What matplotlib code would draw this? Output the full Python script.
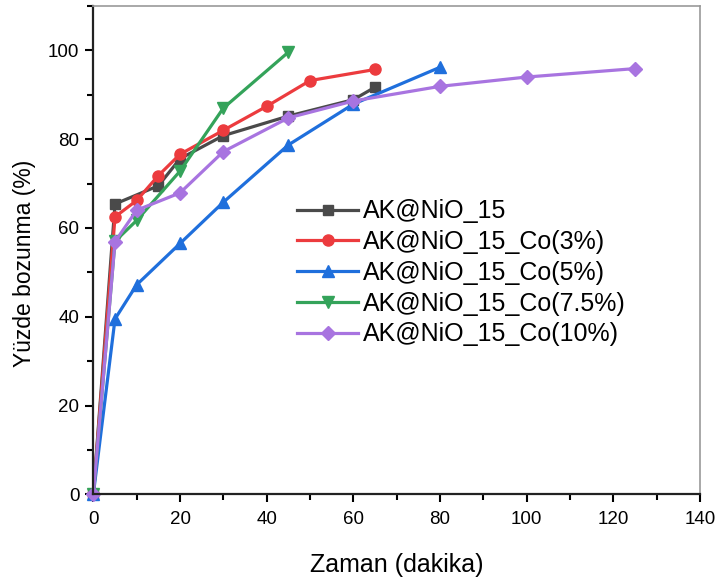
import matplotlib
matplotlib.use("Agg")
from matplotlib import pyplot as plt
from matplotlib.ticker import MultipleLocator

plt.rcParams['font.family'] = ['Liberation Sans', 'DejaVu Sans']

labels = ["AK@NiO_15", "AK@NiO_15_Co(3%)", "AK@NiO_15_Co(5%)",
          "AK@NiO_15_Co(7.5%)", "AK@NiO_15_Co(10%)"]

t_ni = [0, 5, 15, 20, 30, 45, 60, 65]
y_ni = [0, 65.4, 69.5, 75.6, 80.8, 85.2, 88.9, 91.7]

t_co3 = [0, 5, 10, 15, 20, 30, 40, 50, 65]
y_co3 = [0, 62.5, 66.2, 71.8, 76.6, 82.0, 87.4, 93.2, 95.7]

t_co5 = [0, 5, 10, 20, 30, 45, 60, 80]
y_co5 = [0, 39.5, 47.2, 56.5, 65.8, 78.7, 87.9, 96.2]

t_co75 = [0, 5, 10, 20, 30, 45]
y_co75 = [0, 57.0, 61.7, 72.8, 87.0, 99.6]

t_co10 = [0, 5, 10, 20, 30, 45, 60, 80, 100, 125]
y_co10 = [0, 56.9, 64.0, 67.9, 77.2, 84.8, 88.6, 91.9, 94.0, 95.9]

series = [(t_ni, y_ni), (t_co3, y_co3), (t_co5, y_co5), (t_co75, y_co75), (t_co10, y_co10)]
colors = ["#4a4a4a", "#ec3b3e", "#1f6fdc", "#34a35a", "#a874e0"]
markers = ["s", "o", "^", "v", "D"]
sizes = [7, 8, 8.5, 8.5, 7]

fig = plt.figure(figsize=(7.18, 5.77), dpi=100)
ax = fig.add_axes([0.130, 0.1433, 0.845, 0.8463])

for (t, y), c, m, s, lab in zip(series, colors, markers, sizes, labels):
    ax.plot(t, y, color=c, marker=m, markersize=s, linewidth=2.3, label=lab, clip_on=False)

ax.set_xlim(0, 140)
ax.set_ylim(0, 110)
ax.xaxis.set_major_locator(MultipleLocator(20))
ax.xaxis.set_minor_locator(MultipleLocator(10))
ax.yaxis.set_major_locator(MultipleLocator(20))
ax.yaxis.set_minor_locator(MultipleLocator(10))
ax.tick_params(which='both', direction='out', labelsize=13.5, width=1.5)
ax.tick_params(which='major', length=6)
ax.tick_params(which='minor', length=4)
ax.tick_params(axis='x', pad=6)
ax.tick_params(axis='y', pad=4)

for side in ['left', 'bottom']:
    ax.spines[side].set_linewidth(1.6)
    ax.spines[side].set_color('#222222')
for side in ['top', 'right']:
    ax.spines[side].set_linewidth(1.2)
    ax.spines[side].set_color('#999999')

ax.set_xlabel("Zaman (dakika)", fontsize=18, labelpad=18)
ax.set_ylabel("Yüzde bozunma (%)", fontsize=16.5)
ax.yaxis.set_label_coords(-0.094, 0.473)

ax.legend(loc='upper left', bbox_to_anchor=(0.336, 0.604), frameon=False, fontsize=18,
          handlelength=2.45, handletextpad=0.2, labelspacing=0.27, borderpad=0,
          borderaxespad=0)

fig.savefig("out.png", dpi=100)
